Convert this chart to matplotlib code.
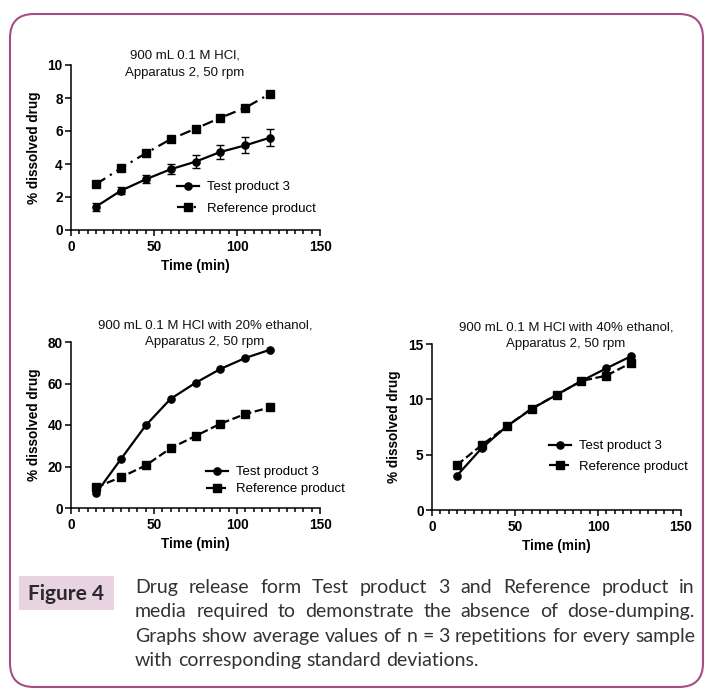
import matplotlib
matplotlib.use("Agg")
import matplotlib.pyplot as plt
from matplotlib.patches import FancyBboxPatch, Rectangle
from matplotlib.ticker import MultipleLocator
from matplotlib.transforms import Affine2D

# ---------------- data ----------------
time_min = [15, 30, 45, 60, 75, 90, 105, 120]

hcl_test = [1.41, 2.38, 3.07, 3.68, 4.14, 4.73, 5.13, 5.60]
hcl_test_sd = [0.25, 0.20, 0.25, 0.30, 0.38, 0.40, 0.48, 0.52]
hcl_ref = [2.77, 3.74, 4.65, 5.50, 6.14, 6.80, 7.41, 8.26]

eth20_test = [7.0, 23.5, 39.8, 52.6, 60.3, 67.0, 72.3, 76.3]
eth20_ref = [10.0, 14.8, 20.5, 28.8, 34.7, 40.6, 45.3, 48.5]

eth40_test = [3.1, 5.6, 7.56, 9.13, 10.4, 11.66, 12.8, 13.9]
eth40_ref = [4.07, 5.87, 7.56, 9.16, 10.4, 11.66, 12.14, 13.3]

series_labels = ["Test product 3", "Reference product"]
titles = [
    ["900 mL 0.1 M HCl,", "Apparatus 2, 50 rpm"],
    ["900 mL 0.1 M HCl with 20% ethanol,", "Apparatus 2, 50 rpm"],
    ["900 mL 0.1 M HCl with 40% ethanol,", "Apparatus 2, 50 rpm"],
]
xlabel = "Time (min)"
ylabel = "% dissolved drug"
caption_tag = "Figure 4"
caption_lines = [
    "Drug release form Test product 3 and Reference product in",
    "media required to demonstrate the absence of dose-dumping.",
    "Graphs show average values of n = 3 repetitions for every sample",
    "with corresponding standard deviations.",
]

# ---------------- figure ----------------
W, H = 705, 690
plt.rcParams['font.family'] = ['Liberation Sans', 'DejaVu Sans']
fig = plt.figure(figsize=(W / 100, H / 100), dpi=100)
fig.patch.set_facecolor('white')

# pixel (top-down) -> figure transform
PX = Affine2D().scale(1 / W, -1 / H).translate(0, 1) + fig.transFigure


def add_axes_px(l, t, r, b):
    return fig.add_axes([l / W, 1 - b / H, (r - l) / W, (b - t) / H])


FS = 9.8


def style_axes(ax, ymax, ystep):
    ax.set_xlim(0, 150)
    ax.set_ylim(0, ymax)
    for s in ['top', 'right']:
        ax.spines[s].set_visible(False)
    for s in ['left', 'bottom']:
        ax.spines[s].set_linewidth(1.1)
    ax.xaxis.set_major_locator(MultipleLocator(50))
    ax.xaxis.set_minor_locator(MultipleLocator(5))
    ax.yaxis.set_major_locator(MultipleLocator(ystep))
    ax.tick_params(axis='x', which='major', length=4.5, width=1.1, pad=2.5, labelsize=FS)
    ax.tick_params(axis='x', which='minor', length=2.8, width=1.1)
    ax.tick_params(axis='y', which='major', length=4.5, width=1.1, pad=1.5, labelsize=FS)
    for lab in ax.get_xticklabels() + ax.get_yticklabels():
        lab.set_fontweight('bold')
    ax.set_xlabel(xlabel, fontsize=FS, fontweight='bold', labelpad=4)
    ax.set_ylabel(ylabel, fontsize=FS, fontweight='bold', labelpad=5)


def add_title(lines, cx, ys):
    for line, y in zip(lines, ys):
        fig.text(cx, y, line, transform=PX, ha='center', va='center', fontsize=9.5, color='#111111')


def add_legend(ax, handles, x, y, spacing):
    ax.legend(handles, series_labels, loc='upper left', bbox_to_anchor=(x, y), bbox_transform=PX,
              frameon=False, fontsize=9.5, handlelength=1.7, handletextpad=0.55,
              labelspacing=spacing, borderpad=0, borderaxespad=0)


LW = 1.6
MS_C = 5.2
MS_S = 5.6

# ---- top plot ----
ax1 = add_axes_px(71, 65, 320, 230)
eb = ax1.errorbar(time_min, hcl_test, yerr=hcl_test_sd, fmt='-o', color='black', lw=LW, ms=MS_C,
                  capsize=3, elinewidth=1.0, capthick=1.0, clip_on=False)
r1, = ax1.plot(time_min, hcl_ref, linestyle=(0, (5, 2.5, 1, 2.5)), marker='s', color='black', lw=LW,
               ms=MS_S, clip_on=False)
style_axes(ax1, 10, 2)
add_title(titles[0], 185, [56, 73])
add_legend(ax1, [eb.lines[0], r1], 177, 181, 0.7)

# ---- middle-left plot ----
ax2 = add_axes_px(71, 342, 320, 508)
t2, = ax2.plot(time_min, eth20_test, '-o', color='black', lw=LW, ms=MS_C, clip_on=False)
r2, = ax2.plot(time_min, eth20_ref, '--s', color='black', lw=LW, ms=MS_S, clip_on=False)
style_axes(ax2, 80, 20)
add_title(titles[1], 205, [325, 342])
add_legend(ax2, [t2, r2], 206, 466, 0.38)

# ---- middle-right plot ----
ax3 = add_axes_px(432, 344, 681, 510)
t3, = ax3.plot(time_min, eth40_test, '-o', color='black', lw=LW, ms=MS_C, clip_on=False)
r3, = ax3.plot(time_min, eth40_ref, '--s', color='black', lw=LW, ms=MS_S, clip_on=False)
style_axes(ax3, 15, 5)
add_title(titles[2], 566, [328, 344])
add_legend(ax3, [t3, r3], 549, 440, 0.62)

# ---------------- frame ----------------
border = FancyBboxPatch((10, 14), 693, 673, boxstyle="round,pad=0,rounding_size=24",
                        transform=PX, fill=False, edgecolor='#a54e85', linewidth=1.5)
fig.patches.append(border)

# ---------------- caption ----------------
tagbox = Rectangle((19, 576), 95, 34, transform=PX, facecolor='#e8d3e0', edgecolor='none')
fig.patches.append(tagbox)
fig.text(66, 594, caption_tag, transform=PX, ha='center', va='center', fontsize=15,
         fontweight='bold', family=['Lato', 'DejaVu Sans'], color='#2a2a2a')

renderer = fig.canvas.get_renderer()
cap_family = ['Lato', 'DejaVu Sans']
x0, x1 = 135, 695
probe = fig.text(0, 0, caption_lines[2], fontsize=12, family=cap_family)
nat = probe.get_window_extent(renderer).width
probe.remove()
cap_fs = 12 * (x1 - x0) / nat
sp = fig.text(0, 0, "a a", fontsize=cap_fs, family=cap_family)
sp2 = fig.text(0, 0, "aa", fontsize=cap_fs, family=cap_family)
space_w = sp.get_window_extent(renderer).width - sp2.get_window_extent(renderer).width
sp.remove(); sp2.remove()

baselines = [593, 617, 642, 666]
for i, (line, yb) in enumerate(zip(caption_lines, baselines)):
    words = line.split()
    texts = [fig.text(0, 0, w, fontsize=cap_fs, family=cap_family, color='#333333',
                      va='baseline', ha='left', transform=PX) for w in words]
    widths = [t.get_window_extent(renderer).width for t in texts]
    if i < len(caption_lines) - 1:
        gap = (x1 - x0 - sum(widths)) / (len(words) - 1)
    else:
        gap = space_w
    x = x0
    for t, w in zip(texts, widths):
        t.set_position((x, yb))
        x += w + gap

fig.savefig("out.png", dpi=100)
